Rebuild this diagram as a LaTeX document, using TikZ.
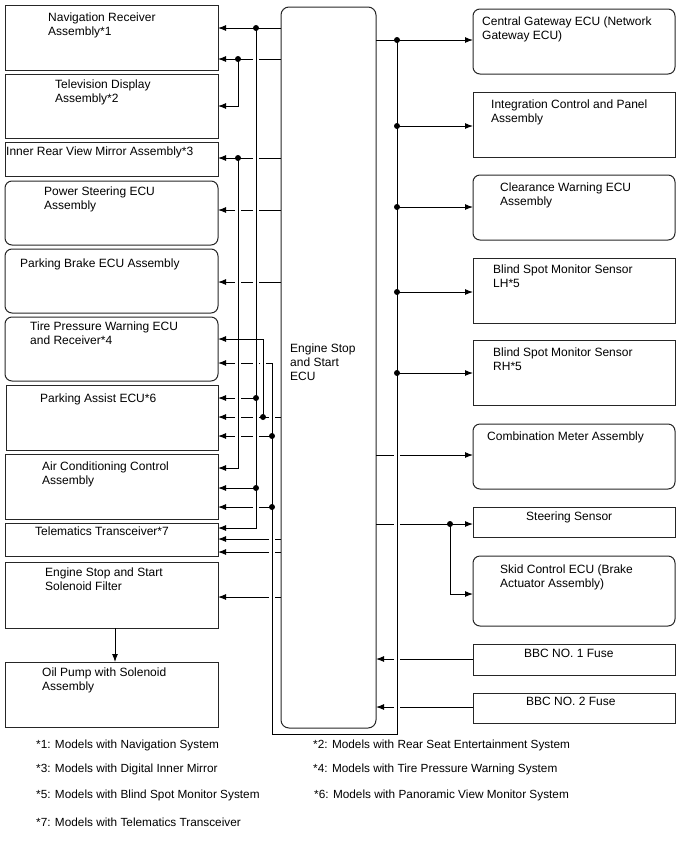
\documentclass[tikz,border=0pt]{standalone}
\usepackage{fontspec}
\setmainfont{Liberation Sans}
\usetikzlibrary{arrows.meta}
\begin{document}
\begin{tikzpicture}[x=1pt,y=-1pt,
  box/.style={draw=black!85, line width=1pt, anchor=north west, inner sep=0pt, outer sep=0pt},
  rbox/.style={box, rounded corners=7pt},
  txt/.style={anchor=north west, align=left, inner sep=0pt, font=\fontsize{12}{14}\selectfont},
  note/.style={anchor=west, inner sep=0pt, font=\fontsize{11.8}{13}\selectfont},
  arr/.style={-{Latex[length=8pt,width=6pt]}, line width=1pt},
  jdot/.style={circle, fill, inner sep=0pt, minimum size=6pt},
]
\useasboundingbox (0,0) rectangle (688,852);

% ---------- left boxes ----------
\node[box,  minimum width=213pt, minimum height=65pt] (nav) at (5,5) {};
\node[txt] (nav-t) at (48,13) {Navigation Receiver\\Assembly*1};
\node[box,  minimum width=213pt, minimum height=64pt] (tv) at (5,74) {};
\node[txt] (tv-t) at (55,80) {Television Display\\Assembly*2};
\node[box,  minimum width=213pt, minimum height=34pt] (irv) at (5,142) {};
\node[txt] (irv-t) at (6,147) {Inner Rear View Mirror Assembly*3};
\node[rbox, minimum width=213pt, minimum height=64pt] (ps) at (5,181) {};
\node[txt] (ps-t) at (44,187) {Power Steering ECU\\Assembly};
\node[rbox, minimum width=213pt, minimum height=64pt] (pb) at (5,249) {};
\node[txt] (pb-t) at (20,259) {Parking Brake ECU Assembly};
\node[rbox, minimum width=213pt, minimum height=64pt] (tp) at (5,317) {};
\node[txt] (tp-t) at (30,322) {Tire Pressure Warning ECU\\and Receiver*4};
\node[box,  minimum width=212pt, minimum height=65pt] (pa) at (6,385) {};
\node[txt] (pa-t) at (40,394) {Parking Assist ECU*6};
\node[box,  minimum width=213pt, minimum height=65pt] (ac) at (5,454) {};
\node[txt] (ac-t) at (42,462) {Air Conditioning Control\\Assembly};
\node[box,  minimum width=213pt, minimum height=33pt] (tel) at (5,523) {};
\node[txt] (tel-t) at (35,527) {Telematics Transceiver*7};
\node[box,  minimum width=213pt, minimum height=66pt] (esf) at (5,562) {};
\node[txt] (esf-t) at (45,568) {Engine Stop and Start\\Solenoid Filter};
\node[box,  minimum width=213pt, minimum height=65pt] (op) at (5,662) {};
\node[txt] (op-t) at (42,668) {Oil Pump with Solenoid\\Assembly};

% ---------- ECU ----------
\node[box, rounded corners=8pt, minimum width=95pt, minimum height=721pt] (ecu) at (281,7) {};
\node[txt] (ecu-t) at (290,344) {Engine Stop\\and Start\\ECU};

% ---------- right boxes ----------
\node[rbox, minimum width=202pt, minimum height=65pt] (cg) at (473,9) {};
\node[txt] (cg-t) at (482,17) {Central Gateway ECU (Network\\Gateway ECU)};
\node[box,  minimum width=202pt, minimum height=65pt] (icp) at (473,92) {};
\node[txt] (icp-t) at (491,100) {Integration Control and Panel\\Assembly};
\node[rbox, minimum width=202pt, minimum height=65pt] (cw) at (473,175) {};
\node[txt] (cw-t) at (500,183) {Clearance Warning ECU\\Assembly};
\node[box,  minimum width=202pt, minimum height=65pt] (bl) at (473,258) {};
\node[txt] (bl-t) at (493,265) {Blind Spot Monitor Sensor\\LH*5};
\node[box,  minimum width=202pt, minimum height=65pt] (br) at (473,340) {};
\node[txt] (br-t) at (493,348) {Blind Spot Monitor Sensor\\RH*5};
\node[rbox, minimum width=202pt, minimum height=65pt] (cm) at (473,424) {};
\node[txt] (cm-t) at (487,432) {Combination Meter Assembly};
\node[box,  minimum width=202pt, minimum height=30pt] (ss) at (473,507) {};
\node[txt] (ss-t) at (526,512) {Steering Sensor};
\node[rbox, minimum width=202pt, minimum height=70pt] (sk) at (473,556) {};
\node[txt] (sk-t) at (500,565) {Skid Control ECU (Brake\\Actuator Assembly)};
\node[box,  minimum width=202pt, minimum height=31pt] (b1) at (473,644) {};
\node[txt] (b1-t) at (524,649) {BBC NO. 1 Fuse};
\node[box,  minimum width=202pt, minimum height=30pt] (b2) at (473,693) {};
\node[txt] (b2-t) at (526,697) {BBC NO. 2 Fuse};

% ---------- junction coordinates ----------
\coordinate (dA)  at (256,28);
\coordinate (dB)  at (238,59);
\coordinate (bB)  at (238,106);
\coordinate (dC)  at (238,158);
\coordinate (bC)  at (238,468);
\coordinate (bA)  at (256,528);
\coordinate (dA2) at (256,398);
\coordinate (dA3) at (256,488);
\coordinate (dD)  at (263,417);
\coordinate (tD)  at (263,339);
\coordinate (tE)  at (272,363);
\coordinate (dE1) at (272,436);
\coordinate (dE2) at (272,507);
\coordinate (bE)  at (272,734);
\coordinate (bR)  at (397,734);
\coordinate (dR1) at (397,40);
\coordinate (dR2) at (397,126);
\coordinate (dR3) at (397,207);
\coordinate (dR4) at (397,292);
\coordinate (dR5) at (397,373);
\coordinate (dS)  at (450,524);
\coordinate (bS)  at (450,594);
\coordinate (y210) at (0,210);
\coordinate (y282) at (0,282);
\coordinate (y539) at (0,539);
\coordinate (y552) at (0,552);
\coordinate (y597) at (0,597);
\coordinate (y455) at (0,455);
\coordinate (y659) at (0,659);
\coordinate (y707) at (0,707);
\coordinate (fo)  at (115,0);

% ---------- left wiring ----------
\draw[arr] (ecu.west |- dA) -- (nav.east |- dA);
\draw[arr] (dA) -- (bA) -- (tel.east |- bA);
\draw[arr] (ecu.west |- dB) -- (259,59) (253,59) -- (nav.east |- dB);
\draw[arr] (dB) -- (bB) -- (tv.east |- bB);
\draw[arr] (ecu.west |- dC) -- (259,158) (253,158) -- (irv.east |- dC);
\draw[arr] (dC) -- (bC) -- (ac.east |- bC);
\draw[arr] (ecu.west |- y210) -- (259,210) (253,210) -- (241,210) (235,210) -- (ps.east |- y210);
\draw[arr] (ecu.west |- y282) -- (259,282) (253,282) -- (241,282) (235,282) -- (pb.east |- y282);
\draw[arr] (dD) -- (tD) -- (tp.east |- tD);
\draw[arr] (ecu.west |- dD) -- (275,417) (269,417) -- (259,417) (253,417) -- (241,417) (235,417) -- (pa.east |- dD);
\draw[arr] (dR1) -- (bR) -- (bE) -- (tE) -- (266,363) (260,363) -- (259,363) (253,363) -- (241,363) (235,363) -- (tp.east |- tE);
\draw[arr] (dA2) -- (241,398) (235,398) -- (pa.east |- dA2);
\draw[arr] (dE1) -- (259,436) (253,436) -- (241,436) (235,436) -- (pa.east |- dE1);
\draw[arr] (dA3) -- (ac.east |- dA3);
\draw[arr] (dE2) -- (259,507) (253,507) -- (ac.east |- dE2);
\draw[arr] (ecu.west |- y539) -- (275,539) (269,539) -- (tel.east |- y539);
\draw[arr] (ecu.west |- y552) -- (275,552) (269,552) -- (tel.east |- y552);
\draw[arr] (ecu.west |- y597) -- (275,597) (269,597) -- (esf.east |- y597);
\draw[arr] (esf.south -| fo) -- (op.north -| fo);

% ---------- right wiring ----------
\draw[arr] (ecu.east |- dR1) -- (cg.west |- dR1);
\draw[arr] (dR2) -- (icp.west |- dR2);
\draw[arr] (dR3) -- (cw.west |- dR3);
\draw[arr] (dR4) -- (bl.west |- dR4);
\draw[arr] (dR5) -- (br.west |- dR5);
\draw[arr] (ecu.east |- y455) -- (394,455) (400,455) -- (cm.west |- y455);
\draw[arr] (ecu.east |- dS) -- (394,524) (400,524) -- (ss.west |- dS);
\draw[arr] (dS) -- (bS) -- (sk.west |- bS);
\draw[arr] (b1.west |- y659) -- (400,659) (394,659) -- (ecu.east |- y659);
\draw[arr] (b2.west |- y707) -- (400,707) (394,707) -- (ecu.east |- y707);

% ---------- dots ----------
\foreach \p in {dA,dB,dC,dA2,dA3,dD,dE1,dE2,dR1,dR2,dR3,dR4,dR5,dS}
  \node[jdot] at (\p) {};

% ---------- footnotes ----------
\node[note] (n1) at (36,745) {*1: Models with Navigation System};
\node[note] (n2) at (313,745) {*2: Models with Rear Seat Entertainment System};
\node[note] (n3) at (36,769) {*3: Models with Digital Inner Mirror};
\node[note] (n4) at (313,769) {*4: Models with Tire Pressure Warning System};
\node[note] (n5) at (36,795) {*5: Models with Blind Spot Monitor System};
\node[note] (n6) at (314,795) {*6: Models with Panoramic View Monitor System};
\node[note] (n7) at (36,822) {*7: Models with Telematics Transceiver};
\end{tikzpicture}
\end{document}
